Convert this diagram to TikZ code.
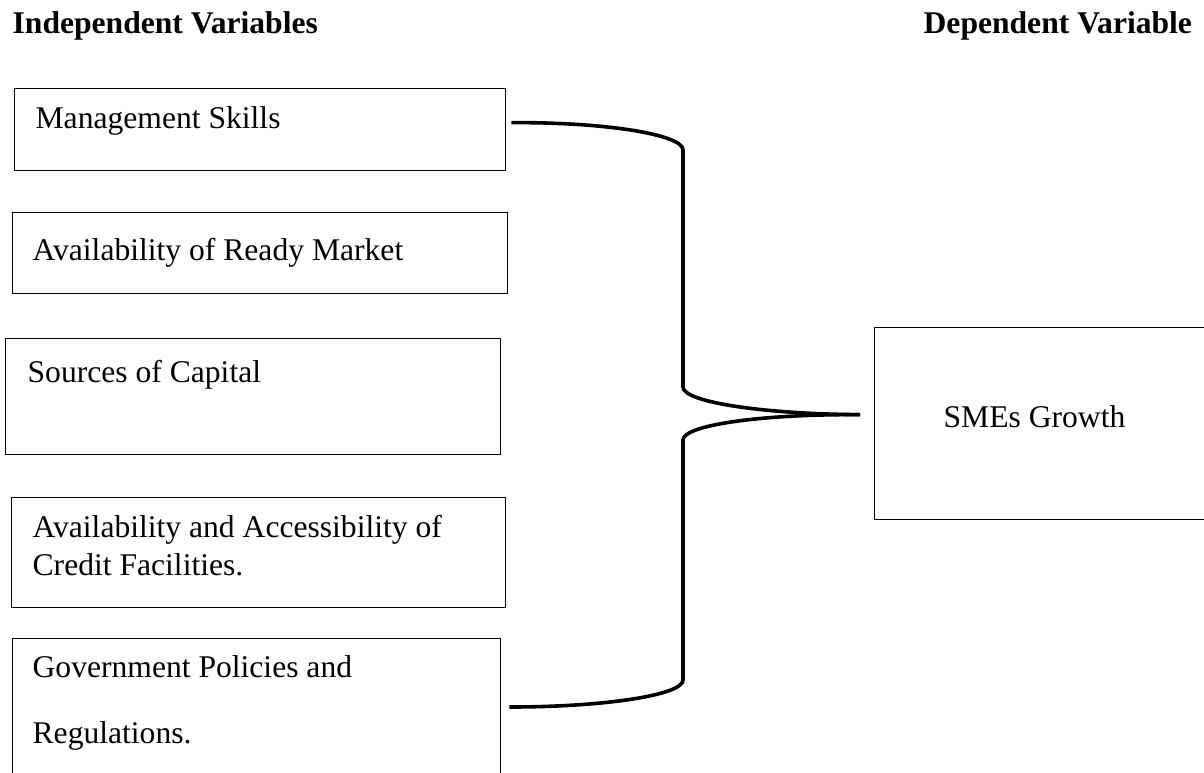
\documentclass[tikz,border=0pt]{standalone}
\usepackage{fontspec}
\setmainfont{Liberation Serif}
\usetikzlibrary{positioning}

\begin{document}
\begin{tikzpicture}[x=1pt, y=-1pt, line width = 1.3 pt,
varbox/.style={draw, rectangle, inner sep=0pt, anchor=north west},
vartext/.style={anchor=base west, inner sep=0pt, align=left,
  font=\fontsize{31.6}{38}\selectfont},
heading/.style={anchor=base west, inner sep=0pt,
  font=\fontsize{31.6}{38}\selectfont\bfseries},
brace/.style={line width=3.6pt, line cap=butt}]

\useasboundingbox (0,0) rectangle (1204,772);
\clip (0,0) rectangle (1204,772);

\node [heading] (indep) at (12,33) {Independent Variables};
\node [heading] (dep) at (923,33) {Dependent Variable};

% independent variables
\node [varbox, minimum width=491pt, minimum height=82pt] (mgmt) at (14,88) {};
\node [vartext] (mgmttext) at (35,128) {Management Skills};

\node [varbox, minimum width=495pt, minimum height=81pt] (market) at (12,212) {};
\node [vartext] (markettext) at (32,260) {Availability of Ready Market};

\node [varbox, minimum width=495pt, minimum height=116pt] (capital) at (5,338) {};
\node [vartext] (capitaltext) at (27,382) {Sources of Capital};

\node [varbox, minimum width=494pt, minimum height=110pt] (credit) at (11,497) {};
\node [vartext] (credittext) at (32,575) {Availability and Accessibility of\\Credit Facilities.};

\node [varbox, minimum width=488pt, minimum height=160pt] (govt) at (12,638) {};
\node [vartext] (govttext) at (32,743) {Government Policies and\\[28pt]Regulations.};

% dependent variable
\node [varbox, minimum width=360pt, minimum height=192pt] (smes) at (874,327) {};
\node [vartext] (smestext) at (943,427) {SMEs Growth};

% the brace
\coordinate (bracetop) at ([xshift=5pt, yshift=7pt]mgmt.east);
\coordinate (bracebot) at ([xshift=8pt, yshift=-69pt]govt.north east);
\coordinate (tip) at ([xshift=-14pt, yshift=9pt]smes.west);

\draw [brace] (bracetop) .. controls (605,122) and (683,134.5) .. (683,150)
  -- (683,387) .. controls (683,402) and (762,414) .. (tip);
\draw [brace] (tip) .. controls (762,414) and (683,425) .. (683,440)
  -- (683,680) .. controls (683,695) and (605,707) .. (bracebot);

\end{tikzpicture}
\end{document}
